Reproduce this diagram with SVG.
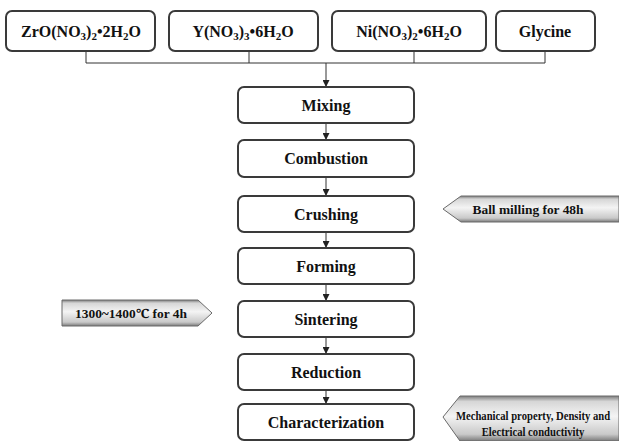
<svg xmlns="http://www.w3.org/2000/svg" width="619" height="441" viewBox="0 0 619 441">
<defs>
<style>
.box{fill:#fff;stroke:#3a3a3a;stroke-width:2}
.t{font-family:Tinos,"Liberation Serif","Times New Roman","Noto Serif","DejaVu Serif",FreeSerif,serif;font-weight:bold;font-size:16px;fill:#111;text-anchor:middle}
.s{font-family:Tinos,"Liberation Serif","Times New Roman","Noto Serif","DejaVu Serif",FreeSerif,serif;font-weight:bold;font-size:13px;fill:#111;text-anchor:middle}
.sub{font-size:11px}
.ln{stroke:#333;stroke-width:1;fill:none}
.tag{fill:url(#g);stroke:#6a6a6a;stroke-width:1}
</style>
<linearGradient id="g" x1="0" y1="0" x2="0" y2="1">
<stop offset="0" stop-color="#7c7c7c"/>
<stop offset="0.12" stop-color="#d6d6d6"/>
<stop offset="0.45" stop-color="#f4f4f4"/>
<stop offset="0.85" stop-color="#c9c9c9"/>
<stop offset="1" stop-color="#7a7a7a"/>
</linearGradient>
<marker id="ar" viewBox="0 0 8 8" refX="8" refY="4" markerWidth="7" markerHeight="7" orient="auto" markerUnits="userSpaceOnUse">
<path d="M0,0 L8,4 L0,8 z" fill="#222"/>
</marker>
</defs>

<g id="connectors">
<path class="ln" d="M86,51 V63 M249,51 V63 M414,51 V63 M545,51 V63 M86,63 H545"/>
<line class="ln" x1="326" y1="63" x2="326" y2="87" marker-end="url(#ar)"/>
<line class="ln" x1="326" y1="123" x2="326" y2="140" marker-end="url(#ar)"/>
<line class="ln" x1="326" y1="177" x2="326" y2="196" marker-end="url(#ar)"/>
<line class="ln" x1="326" y1="232" x2="326" y2="248" marker-end="url(#ar)"/>
<line class="ln" x1="326" y1="284" x2="326" y2="301" marker-end="url(#ar)"/>
<line class="ln" x1="326" y1="337" x2="326" y2="354" marker-end="url(#ar)"/>
<line class="ln" x1="326" y1="390" x2="326" y2="404" marker-end="url(#ar)"/>
</g>

<g id="zro">
<rect class="box" x="6" y="11" width="149" height="40" rx="6"/>
<text class="t" x="81" y="37">ZrO(NO<tspan class="sub" dy="3">3</tspan><tspan dy="-3">)</tspan><tspan class="sub" dy="3">2</tspan><tspan dy="-3">•2H</tspan><tspan class="sub" dy="3">2</tspan><tspan dy="-3">O</tspan></text>
</g>
<g id="yno">
<rect class="box" x="169" y="11" width="149" height="40" rx="6"/>
<text class="t" x="243" y="37">Y(NO<tspan class="sub" dy="3">3</tspan><tspan dy="-3">)</tspan><tspan class="sub" dy="3">3</tspan><tspan dy="-3">•6H</tspan><tspan class="sub" dy="3">2</tspan><tspan dy="-3">O</tspan></text>
</g>
<g id="nino">
<rect class="box" x="332" y="11" width="154" height="40" rx="6"/>
<text class="t" x="409" y="37">Ni(NO<tspan class="sub" dy="3">3</tspan><tspan dy="-3">)</tspan><tspan class="sub" dy="3">2</tspan><tspan dy="-3">•6H</tspan><tspan class="sub" dy="3">2</tspan><tspan dy="-3">O</tspan></text>
</g>
<g id="glycine">
<rect class="box" x="496" y="11" width="99" height="40" rx="6"/>
<text class="t" x="545" y="37">Glycine</text>
</g>

<g id="mixing"><rect class="box" x="238" y="87" width="176" height="36" rx="6"/><text class="t" x="326" y="111">Mixing</text></g>
<g id="combustion"><rect class="box" x="238" y="140" width="176" height="37" rx="6"/><text class="t" x="326" y="164">Combustion</text></g>
<g id="crushing"><rect class="box" x="238" y="196" width="176" height="36" rx="6"/><text class="t" x="326" y="220">Crushing</text></g>
<g id="forming"><rect class="box" x="238" y="248" width="176" height="36" rx="6"/><text class="t" x="326" y="272">Forming</text></g>
<g id="sintering"><rect class="box" x="238" y="301" width="176" height="36" rx="6"/><text class="t" x="326" y="325">Sintering</text></g>
<g id="reduction"><rect class="box" x="238" y="354" width="176" height="36" rx="6"/><text class="t" x="326" y="378">Reduction</text></g>
<g id="characterization"><rect class="box" x="238" y="404" width="176" height="36" rx="6"/><text class="t" x="326" y="428">Characterization</text></g>

<g id="ballmilling">
<path class="tag" d="M443,209 L461,196 L619,196 L619,222 L461,222 Z"/>
<text class="s" x="528" y="214" textLength="111" lengthAdjust="spacingAndGlyphs">Ball milling for 48h</text>
</g>
<g id="sinter-cond">
<path class="tag" d="M62,300 L198,300 L212,313 L198,326 L62,326 Z"/>
<text class="s" x="131" y="318" textLength="112" lengthAdjust="spacingAndGlyphs">1300~1400℃ for 4h</text>
</g>
<g id="characterization-items">
<path class="tag" d="M443,417 L460,396 L619,396 L619,441 L460,441 Z"/>
<text class="s" font-size="12" transform="translate(533,420) scale(0.82,1)">Mechanical property, Density and</text>
<text class="s" font-size="12" transform="translate(533,436) scale(0.82,1)">Electrical conductivity</text>
</g>
</svg>
